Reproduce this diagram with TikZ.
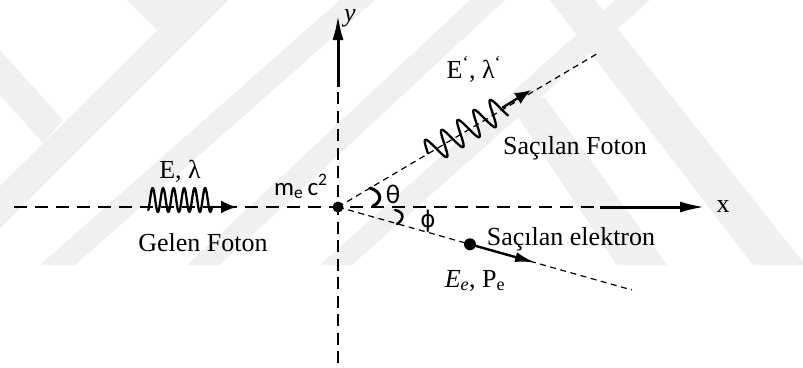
\documentclass[tikz,border=0pt]{standalone}
\usepackage{fontspec}
\setmainfont{Liberation Serif}
\newfontfamily\calib{Carlito}
\newfontfamily\dejavu{DejaVu Sans}
\usetikzlibrary{arrows.meta}
\begin{document}
\begin{tikzpicture}[x=1pt,y=-1pt,
  font=\fontsize{26}{30}\selectfont,
  wm/.style={fill=black!6},
  axisdash/.style={line width=2.6pt, dash pattern=on 13pt off 8pt},
  vaxisdash/.style={line width=2.6pt, dash pattern=on 12pt off 6.5pt},
  thindash/.style={line width=1.2pt, dash pattern=on 6pt off 4.5pt},
  wavy/.style={line width=2.3pt, line join=round, line cap=round},
  anglemark/.style={line width=3pt, line cap=round},
  lbl/.style={inner sep=0pt, anchor=base},
  bigtip/.style={-{Latex[length=25pt,width=11pt]}},
  photontip/.style={-{Latex[length=16pt,width=13pt]}},
  etip/.style={-{Latex[length=20pt,width=10pt]}}]
\useasboundingbox (0,0) rectangle (803,367);
% faint watermark
\fill[wm] (0,186) -- (188,0) -- (228,0) -- (0,228) -- cycle;
\fill[wm] (0,50) -- (63,120) -- (43,143) -- (0,95) -- cycle;
\fill[wm] (127,0) -- (157,30) -- (188,0) -- cycle;
\fill[wm] (40,265) -- (75,265) -- (375,0) -- (340,0) -- cycle;
\fill[wm] (187,265) -- (220,265) -- (505,0) -- (470,0) -- cycle;
\fill[wm] (320,265) -- (352,265) -- (650,0) -- (615,0) -- cycle;
\fill[wm] (505,98) -- (545,98) -- (667,265) -- (617,265) -- cycle;
\fill[wm] (550,0) -- (595,0) -- (803,262) -- (803,265) -- (753,265) -- cycle;
% axes
\coordinate (O) at (338,207);
\coordinate (xl) at (14,207);
\coordinate (xs) at (600,207);
\coordinate (xe) at (705,207);
\coordinate (yb) at (338,363);
\coordinate (ys) at (338,87);
\coordinate (ye) at (338,15);
\draw[axisdash] (xl) -- (xs);
\draw[line width=3pt, bigtip] (xs) -- (xe);
\draw[vaxisdash] (yb) -- (ys);
\draw[line width=3pt, bigtip] (ys) -- (ye);
% scattered directions
\coordinate (P) at (600,52);
\coordinate (Q) at (632,290);
\draw[thindash] (O) -- (P);
\draw[thindash] (O) -- (Q);
\fill (O) circle (5.5);
% incoming photon
\draw[wavy] plot[smooth, domain=-1.7:62, samples=140] ({150+\x},{200-12*sin(\x*34.2857)});
\coordinate (w1) at (212,207);
\coordinate (w2) at (237,207);
\draw[wavy, photontip] (w1) -- (w2);
% scattered photon
\begin{scope}[shift={(428,153.4)}, rotate=31.6]
  \draw[wavy] plot[smooth, domain=0:88, samples=150] ({\x},{-13*sin(\x*18.947)});
  \coordinate (s1) at (88,0);
  \coordinate (s2) at (121,0);
  \draw[wavy, photontip] (s1) -- (s2);
\end{scope}
% electron
\node[circle, fill, inner sep=0pt, minimum size=12pt] (el) at (470,244.3) {};
\coordinate (et) at (535,262.6);
\draw[line width=2.4pt, etip] (el.center) -- (et);
% angle marks
\coordinate (t1) at (370,188);
\coordinate (t2) at (373,206);
\draw[anglemark] (t1) .. controls (383,192) and (382,202) .. (t2);
\coordinate (p1) at (395,210);
\coordinate (p2) at (397,224);
\draw[anglemark, line width=2.5pt] (p1) .. controls (405,212) and (404,220) .. (p2);
% labels
\node[lbl] (ylab) at (350,21) {\textit{y}};
\node[lbl] (xlab) at (723,212) {x};
\node[lbl] (inlab) at (180,178) {E, λ};
\node[lbl] (gelen) at (203,251) {Gelen Foton};
\node[lbl, anchor=base west] (mc) at (274,195) {\calib\fontsize{25}{30}\selectfont m\textsubscript{e}\,c\textsuperscript{2}};
\node[lbl] (th) at (393,203) {\calib\fontsize{27}{30}\selectfont θ};
\node[lbl] (ph) at (428,227) {\dejavu\fontsize{23}{28}\selectfont ϕ};
\node[lbl] (outlab) at (474,78) {E\textsuperscript{‘}, λ\textsuperscript{‘}};
\node[lbl] (sf) at (575,154) {Saçılan Foton};
\node[lbl] (se) at (571,245) {Saçılan elektron};
\node[lbl] (ee) at (475,287) {\textit{E\textsubscript{e}}, P\textsubscript{e}};
\end{tikzpicture}
\end{document}
